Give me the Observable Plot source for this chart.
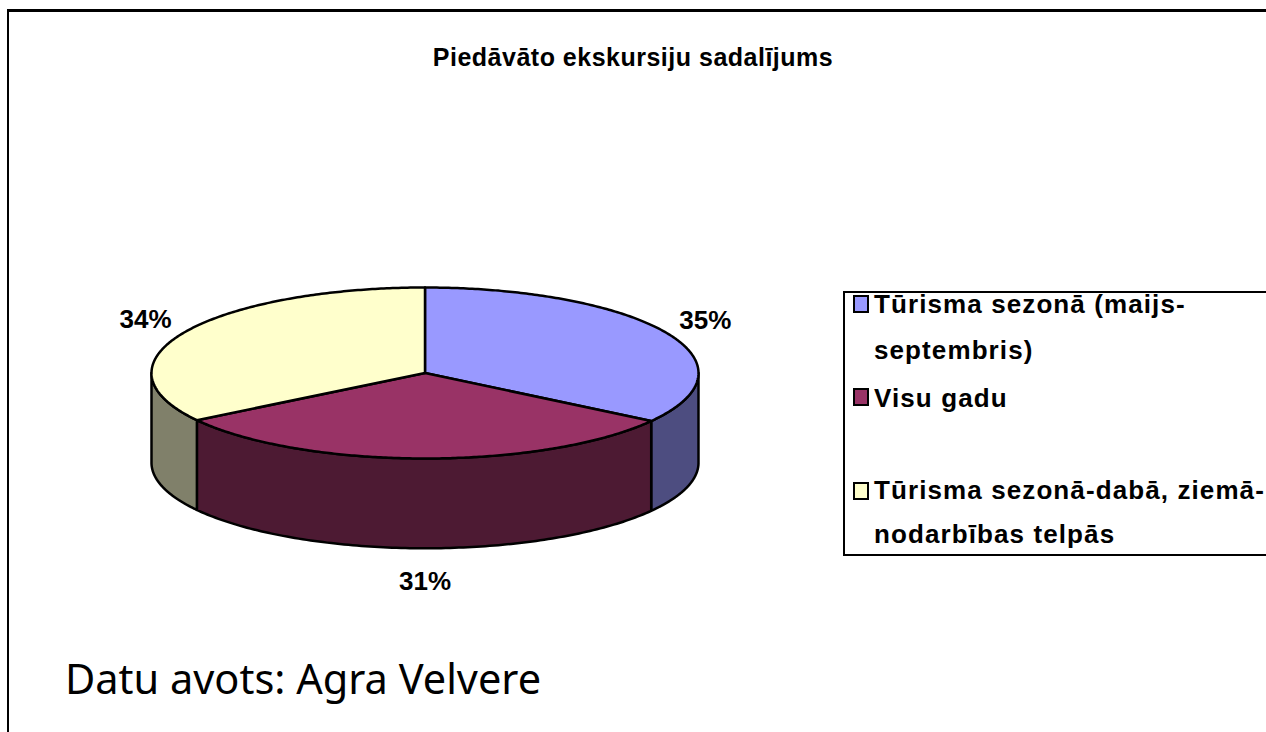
<!DOCTYPE html>
<html>
<head>
<meta charset="utf-8">
<script src="https://cdn.jsdelivr.net/npm/d3@7"></script>
<script src="https://cdn.jsdelivr.net/npm/@observablehq/plot@0.6"></script>
<style>
html,body{margin:0;padding:0;background:#fff;overflow:hidden}
#page{position:relative;width:1266px;height:732px;overflow:hidden;font-family:"Liberation Sans",Arial,sans-serif;color:#000}
#page svg{position:absolute;left:0;top:0;background:transparent}
#frame{position:absolute;left:7px;top:9px;width:1400px;height:900px;border:2.5px solid #000;border-top-width:3px;box-sizing:border-box}
#title{position:absolute;left:0;width:1266px;text-align:center;top:42px;font-weight:bold;font-size:25px;line-height:30px;letter-spacing:.5px}
#legend{position:absolute;left:843px;top:291px;width:500px;height:265px;border:2px solid #000;box-sizing:border-box}
.row{position:absolute;left:29px;font-weight:bold;font-size:26px;line-height:30px;white-space:nowrap;letter-spacing:1.1px}
.sw{position:absolute;left:8px;width:16px;height:18px;border:2px solid #000;box-sizing:border-box}
#source{position:absolute;left:65px;top:653px;font-family:"Noto Sans";font-size:41.5px;line-height:50px;white-space:nowrap}
</style>
</head>
<body>
<div id="page">
<div id="frame"></div>
<div id="title"></div>
<div id="plot"></div>
<div id="legend"></div>
<div id="source"></div>
</div>
<script>
const chartTitle = "Piedāvāto ekskursiju sadalījums";
const sourceNote = "Datu avots: Agra Velvere";
const categories = ["Tūrisma sezonā (maijs-septembris)", "Visu gadu", "Tūrisma sezonā-dabā, ziemā-nodarbības telpās"];
const shares = [34.5, 31.2, 34.3];
const topColors = ["#9999ff", "#993366", "#ffffcc"];
const wallColors = ["#4d4d80", "#4d1a33", "#80806a"];
const legendLines = [["Tūrisma sezonā (maijs-", "septembris)"], ["Visu gadu"], ["Tūrisma sezonā-dabā, ziemā-", "nodarbības telpās"]];
const legendRowTops = [[-4, 42], [90], [182, 226]];
const legendSwatchTops = [2, 95, 189];

const depth = 1.05;                 // wall height in units of the vertical radius
const labelReachX = 1.16, labelReachY = 1.32, frontLabelGap = 1.39;

const toRad = d => d * Math.PI / 180;
const rim = (a, drop = 0) => ({px: Math.sin(toRad(a)), py: -Math.cos(toRad(a)) + drop});

// slice angular extents, clockwise from 12 o'clock
let acc = 0;
const total = d3.sum(shares);
const slices = shares.map((v, i) => {
  const a0 = acc; acc += v / total * 360;
  return {i, a0, a1: acc, mid: (a0 + acc) / 2, label: Math.round(v) + "%"};
});

const wallPts = [], topPts = [];
for (const s of slices) {
  // front wall: only the part of the rim that faces the viewer
  const w0 = Math.max(s.a0, 90), w1 = Math.min(s.a1, 270);
  if (w1 > w0) {
    const arc = d3.range(0, 121).map(k => w0 + (w1 - w0) * k / 120);
    const ring = [...arc.map(a => rim(a)), ...arc.slice().reverse().map(a => rim(a, depth))];
    ring.push(ring[0]);
    ring.forEach(p => wallPts.push({...p, id: s.i, color: wallColors[s.i]}));
  }
  const arc = d3.range(0, 201).map(k => s.a0 + (s.a1 - s.a0) * k / 200);
  const ring = [{px: 0, py: 0}, ...arc.map(a => rim(a)), {px: 0, py: 0}];
  ring.forEach(p => topPts.push({...p, id: s.i, color: topColors[s.i]}));
}

const labelPts = slices.map(s => {
  const front = Math.cos(toRad(s.mid)) < -0.9;
  return {
    px: front ? 0 : Math.sin(toRad(s.mid)) * labelReachX,
    py: front ? depth + frontLabelGap : -Math.cos(toRad(s.mid)) * labelReachY,
    label: s.label
  };
});

const chart = Plot.plot({
  width: 1266, height: 732,
  margin: 0,
  x: {domain: [-1, 1], range: [151, 698], axis: null},
  y: {domain: [-1, 1], range: [287, 458], axis: null},
  style: {background: "transparent"},
  marks: [
    Plot.line(wallPts, {x: "px", y: "py", z: "id", fill: "color", stroke: "#000", strokeWidth: 2.5, curve: "linear"}),
    Plot.line(topPts, {x: "px", y: "py", z: "id", fill: "color", stroke: "#000", strokeWidth: 2.5, curve: "linear"}),
    Plot.text(labelPts, {x: "px", y: "py", text: "label", fontSize: 26, fontWeight: "bold", fontFamily: "Liberation Sans", fill: "#000"})
  ]
});
document.getElementById("plot").append(chart);

document.getElementById("title").textContent = chartTitle;
document.getElementById("source").textContent = sourceNote;
const legend = document.getElementById("legend");
legendLines.forEach((lines, i) => {
  const sw = document.createElement("div");
  sw.className = "sw";
  sw.style.top = legendSwatchTops[i] + "px";
  sw.style.background = topColors[i];
  legend.append(sw);
  lines.forEach((t, j) => {
    const r = document.createElement("div");
    r.className = "row";
    r.style.top = legendRowTops[i][j] + "px";
    r.textContent = t;
    legend.append(r);
  });
});
</script>
</body>
</html>
